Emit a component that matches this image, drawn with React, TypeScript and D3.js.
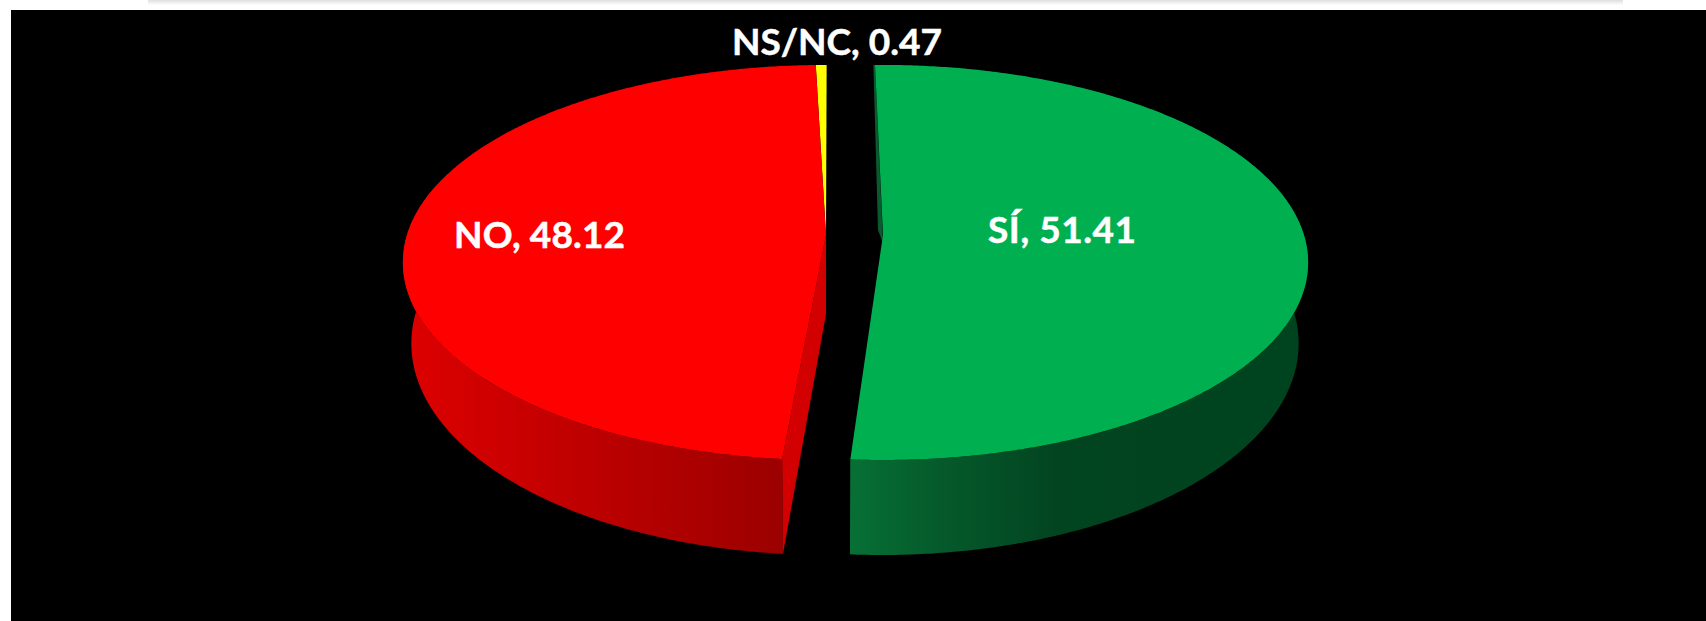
import React from "react";
import * as d3 from "d3";

const WIDTH = 1706;
const HEIGHT = 621;

const categories = ["SÍ", "NO", "NS/NC"];
const values = [51.41, 48.12, 0.47];
const topColors = ["#00B050", "#FF0000", "#FFFF00"];
const sideStops = [
  [[850, "#077035"], [940, "#055a2b"], [1057, "#024420"], [1310, "#00431f"]],
  [[403, "#de0000"], [782, "#9c0000"]],
  [[0, "#b0b000"], [1, "#b0b000"]],
];
const sliceCx = [883, 826, 826];
const sliceCxLow = [882, 826, 826];
const sliceTwistDeg = [-1.24, 0.1, 0.1];
const sliceRx = [421, 419, 419];
const labelX = [1062, 539.5, 837];
const labelY = [243, 248, 55];
const labelWidth = [148, 171, 210];

const CY = 235;
const RY = 193.7;
const K = 0.139;
const BOTTOM_CY = 314;
const BOTTOM_RY = 207.5;
const BOTTOM_SCALE = 0.98;

function project(cx: number, cy: number, rx: number, ry: number, a: number): [number, number] {
  const s = 1 / (1 + K * Math.cos(a));
  return [cx + rx * Math.sin(a) * s, cy - ry * Math.cos(a) * s];
}

const line = d3.line().curve(d3.curveLinear);
const rad = (d: number) => (d * Math.PI) / 180;

function arcPts(cx: number, cy: number, rx: number, ry: number, a0: number, a1: number) {
  const n = Math.max(2, Math.ceil(Math.abs(a1 - a0) / rad(0.5)));
  const t = d3.scaleLinear().domain([0, n]).range([a0, a1]);
  return d3.range(n + 1).map((i) => project(cx, cy, rx, ry, t(i)));
}

export default function App() {
  const slices = d3
    .pie<number>()
    .sort(null)
    .value((d) => d)(values)
    .map((p, i) => {
      const a0 = p.startAngle + rad(sliceTwistDeg[i]);
      const a1 = p.endAngle + rad(sliceTwistDeg[i]);
      const cx = sliceCx[i];
      const rx = sliceRx[i];
      const cx2 = sliceCxLow[i];
      const rx2 = rx * BOTTOM_SCALE;
      return { i, a0, a1, cx, rx, cx2, rx2 };
    });

  const [green, red, yellow] = slices;
  const topPath = (s: typeof green) =>
    line([[s.cx, CY], ...arcPts(s.cx, CY, s.rx, RY, s.a0, s.a1)]) + "Z";
  // Only the front part of the wall is drawn; the back part is hidden by the top.
  const sidePath = (s: typeof green, a0: number, a1: number) =>
    line([
      ...arcPts(s.cx, CY, s.rx, RY, a0, a1),
      ...arcPts(s.cx2, BOTTOM_CY, s.rx2, BOTTOM_RY, a1, a0),
    ]) + "Z";

  const redCorner = project(red.cx, CY, red.rx, RY, red.a0);
  const redCornerLow = project(red.cx2, BOTTOM_CY, red.rx2, BOTTOM_RY, red.a0);
  const redCut =
    line([[red.cx, CY], redCorner, redCornerLow, [red.cx2, BOTTOM_CY]]) + "Z";

  const greenSliver =
    line([
      [green.cx, CY + 8],
      [green.cx - 5, CY - 5],
      ...arcPts(green.cx, CY, green.rx, RY, green.a0 - rad(0.25), green.a0),
    ]) + "Z";

  return (
    <svg
      width={WIDTH}
      height={HEIGHT}
      viewBox={`0 0 ${WIDTH} ${HEIGHT}`}
      style={{ position: "absolute", left: 0, top: 0, display: "block" }}
    >
      <defs>
        {slices.map((s) => (
          <linearGradient
            key={s.i}
            id={`side${s.i}`}
            gradientUnits="userSpaceOnUse"
            x1={sideStops[s.i][0][0] as number}
            x2={sideStops[s.i][sideStops[s.i].length - 1][0] as number}
            y1={0}
            y2={0}
          >
            {sideStops[s.i].map(([x, c], j) => {
              const x0 = sideStops[s.i][0][0] as number;
              const x1 = sideStops[s.i][sideStops[s.i].length - 1][0] as number;
              return <stop key={j} offset={((x as number) - x0) / (x1 - x0)} stopColor={c as string} />;
            })}
          </linearGradient>
        ))}
        <linearGradient id="band" x1="0" x2="0" y1="0" y2="1">
          <stop offset="0" stopColor="#dedede" />
          <stop offset="1" stopColor="#ffffff" />
        </linearGradient>
      </defs>
      <rect x={0} y={0} width={WIDTH} height={HEIGHT} fill="#ffffff" />
      <rect x={148} y={0} width={1475} height={5} fill="url(#band)" />
      <rect x={11} y={10} width={WIDTH - 11} height={HEIGHT - 10} fill="#000000" />

      <path d={sidePath(green, rad(75), green.a1)} fill="url(#side0)" />
      <path d={greenSliver} fill="#0a5a30" />
      <path d={topPath(green)} fill={topColors[0]} />

      <path d={sidePath(red, red.a0, rad(285))} fill="url(#side1)" />
      <path d={redCut} fill="#d20000" />
      <path d={topPath(yellow)} fill={topColors[2]} />
      <path d={topPath(red)} fill={topColors[1]} />

      {categories.map((c, i) => (
        <text
          key={c}
          x={labelX[i]}
          y={labelY[i]}
          textAnchor="middle"
          textLength={labelWidth[i]}
          lengthAdjust="spacing"
          fill="#ffffff"
          stroke="#ffffff"
          strokeWidth={0.5}
          fontFamily="Lato, 'Open Sans', sans-serif"
          fontWeight={700}
          fontSize={37}
        >
          {`${c}, ${values[i]}`}
        </text>
      ))}
    </svg>
  );
}
